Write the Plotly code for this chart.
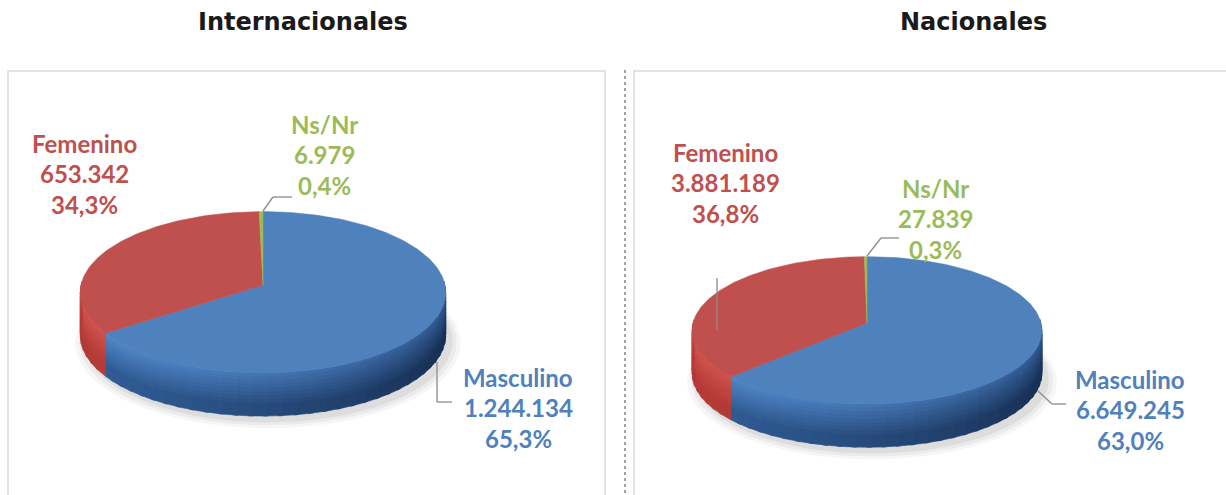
import math
import plotly.graph_objects as go

# ---------------- data ----------------
categories = ["Masculino", "Femenino", "Ns/Nr"]
intl_values = [1244134, 653342, 6979]
nac_values = [6649245, 3881189, 27839]
panel_titles = ["Internacionales", "Nacionales"]

top_colors = {"Masculino": "#4F81BD", "Femenino": "#C0504D", "Ns/Nr": "#9BBB59"}
# side colours: (top band left, top band right, bottom band left, bottom band right)
side_cols = {
    "Masculino": ((84, 138, 204), (50, 90, 146), (50, 94, 152), (24, 48, 84)),
    "Femenino": ((210, 84, 78), (176, 64, 58), (182, 60, 56), (128, 40, 38)),
    "Ns/Nr": ((160, 190, 95), (130, 160, 75), (130, 160, 70), (90, 110, 50)),
}
label_colors = {"Masculino": "#4F81BD", "Femenino": "#C0504D", "Ns/Nr": "#9BBB59"}

W, H = 1226, 495
fig = go.Figure()

def fmt_num(v):
    return f"{v:,}".replace(",", ".")

def fmt_pct(p):
    return f"{p*100:.1f}%".replace(".", ",")

def lerp(a, b, t):
    return tuple(a[i] + (b[i] - a[i]) * t for i in range(3))

def add_poly(xs, ys, color, line_color=None, lw=0.5):
    fig.add_trace(go.Scatter(x=xs, y=ys, mode="lines", fill="toself",
                             fillcolor=color,
                             line=dict(color=line_color or color, width=lw),
                             hoverinfo="skip", showlegend=False))

def draw_pie(values, cx, cy, R, Rs, k, h):
    def proj(th, dz=0.0):
        X, Z = math.sin(th), math.cos(th)
        f = 1.0 / (1.0 + k * Z)
        return cx + R * X * f, cy - Rs * Z * f + dz

    total = sum(values)
    fr = [v / total for v in values]
    angles = []
    a = 0.0
    for f in fr:
        angles.append((a, a + f * 2 * math.pi))
        a += f * 2 * math.pi

    # shadow
    n = 120
    for grow, alpha in [(10, 0.035), (6, 0.045), (2, 0.06)]:
        xs, ys = [], []
        for j in range(n + 1):
            x, y = proj(2 * math.pi * j / n, h + 4)
            xs.append(x + 5 + (x - cx) * grow / R)
            ys.append(y + 2 + (y - cy) * grow / R)
        add_poly(xs, ys, f"rgba(0,0,0,{alpha})", "rgba(0,0,0,0)")

    # side walls (front half)
    nl = 11
    layers = [i / nl for i in range(nl + 1)]
    for cat, (a0, a1) in zip(categories, angles):
        s0, s1 = max(a0, math.pi / 2 - 0.05), min(a1, 3 * math.pi / 2 + 0.05)
        if s1 <= s0:
            continue
        steps = max(2, int((s1 - s0) / 0.075))
        tl, tr, bl, br = side_cols[cat]
        for kk in range(steps):
            t0 = s0 + (s1 - s0) * kk / steps
            t1 = min(s1, s0 + (s1 - s0) * (kk + 1.3) / steps)
            tm = s0 + (s1 - s0) * (kk + 0.5) / steps
            w = min(1, max(0, (math.sin(tm) + 1) / 2))
            w = w ** 1.3
            ctop = lerp(tl, tr, w)
            cbot = lerp(bl, br, w)
            for li in range(nl):
                v0, v1 = layers[li], layers[li + 1]
                vm = (v0 + v1) / 2
                c = lerp(ctop, cbot, min(1, vm * 1.3))
                col = "rgb(%d,%d,%d)" % tuple(int(q) for q in c)
                m = 4
                xs, ys = [], []
                for j in range(m + 1):
                    x, y = proj(t0 + (t1 - t0) * j / m, h * v0)
                    xs.append(x); ys.append(y)
                for j in range(m, -1, -1):
                    x, y = proj(t0 + (t1 - t0) * j / m, h * v1 + 1.2)
                    xs.append(x); ys.append(y)
                xs.append(xs[0]); ys.append(ys[0])
                add_poly(xs, ys, col, col, 0.6)

    # top faces
    for cat, (a0, a1) in zip(categories, angles):
        steps = max(2, int((a1 - a0) / 0.02))
        xs, ys = [cx], [cy]
        for kk in range(steps + 1):
            x, y = proj(a0 + (a1 - a0) * kk / steps)
            xs.append(x); ys.append(y)
        xs.append(cx); ys.append(cy)
        add_poly(xs, ys, top_colors[cat])
    return fr

def add_label(lines, x, y0, color, spacing=30.5):
    for i, t in enumerate(lines):
        fig.add_annotation(x=x, y=y0 + i * spacing, text=t, showarrow=False,
                           xanchor="center", yanchor="middle",
                           font=dict(family="Lato", size=24, color=color))

def leader(pts):
    for (x0, y0), (x1, y1) in zip(pts[:-1], pts[1:]):
        fig.add_shape(type="line", x0=x0, y0=y0, x1=x1, y1=y1,
                      line=dict(color="#8C8C8C", width=1.3))

# ---------------- panels ----------------
fig.add_shape(type="rect", x0=8, x1=605, y0=71, y1=H + 10,
              line=dict(color="#D9D9D9", width=1.5), fillcolor="white", layer="below")
fig.add_shape(type="rect", x0=634, x1=W + 10, y0=71, y1=H + 10,
              line=dict(color="#D9D9D9", width=1.5), fillcolor="white", layer="below")
fig.add_shape(type="line", x0=625, x1=625, y0=70, y1=H,
              line=dict(color="#444444", width=1, dash="dot"))

for t, x in zip(panel_titles, [303, 973]):
    fig.add_annotation(x=x, y=22, text=f"<b>{t}</b>", showarrow=False,
                       font=dict(family="DejaVu Sans", size=24, color="#1a1a1a"))

# ---------------- pies ----------------
fr_i = draw_pie(intl_values, 263, 285, 182, 80, 0.09, 42)
fr_n = draw_pie(nac_values, 867, 323, 174, 73, 0.10, 42)

# labels - Internacionales
add_label([f"<b>{categories[1]}</b>", f"<b>{fmt_num(intl_values[1])}</b>", f"<b>{fmt_pct(fr_i[1])}</b>"],
          84, 143, label_colors["Femenino"])
add_label([f"<b>{categories[2]}</b>", f"<b>{fmt_num(intl_values[2])}</b>", f"<b>{fmt_pct(fr_i[2])}</b>"],
          324, 124, label_colors["Ns/Nr"])
add_label([f"<b>{categories[0]}</b>", f"<b>{fmt_num(intl_values[0])}</b>", f"<b>{fmt_pct(fr_i[0])}</b>"],
          518, 377, label_colors["Masculino"])
leader([(263, 211), (273, 197), (292, 197)])
leader([(437, 362), (437, 402), (452, 402)])

# labels - Nacionales
add_label([f"<b>{categories[1]}</b>", f"<b>{fmt_num(nac_values[1])}</b>", f"<b>{fmt_pct(fr_n[1])}</b>"],
          725, 152, label_colors["Femenino"])
add_label([f"<b>{categories[2]}</b>", f"<b>{fmt_num(nac_values[2])}</b>", f"<b>{fmt_pct(fr_n[2])}</b>"],
          935, 188, label_colors["Ns/Nr"])
add_label([f"<b>{categories[0]}</b>", f"<b>{fmt_num(nac_values[0])}</b>", f"<b>{fmt_pct(fr_n[0])}</b>"],
          1130, 379, label_colors["Masculino"])
leader([(867, 256), (881, 238), (899, 238)])
leader([(717, 330), (717, 278)])
leader([(1038, 391), (1052, 404), (1066, 404)])

fig.update_layout(
    width=W, height=H, margin=dict(l=0, r=0, t=0, b=0),
    paper_bgcolor="white", plot_bgcolor="white",
    xaxis=dict(range=[0, W], visible=False, fixedrange=True),
    yaxis=dict(range=[H, 0], visible=False, fixedrange=True),
    showlegend=False,
)
fig.write_html("out.html", config={"displayModeBar": False},
               post_script="document.body.style.margin='0';document.body.style.overflow='hidden';")
